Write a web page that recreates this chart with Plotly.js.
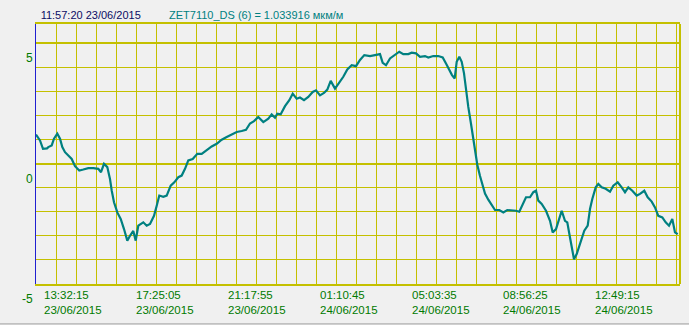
<!DOCTYPE html>
<html><head><meta charset="utf-8">
<script src="https://cdn.plot.ly/plotly-3.0.1.min.js"></script>
<style>html,body{margin:0;padding:0;background:#f0f0f0;}#chart{width:689px;height:325px;}</style>
</head><body><div id="chart"></div>
<script>
// time in hours since 23/06/2015 00:00
const hours = [11.848,11.932,12.017,12.144,12.313,12.367,12.511,12.608,12.748,12.862,
12.959,13.073,13.212,13.356,13.495,13.677,13.846,14.057,14.268,14.479,
14.593,14.720,14.859,14.973,15.045,15.142,15.282,15.425,15.565,15.704,
15.818,15.957,16.059,16.168,16.380,16.523,16.663,16.832,16.946,17.055,
17.224,17.368,17.537,17.689,17.858,18.001,18.141,18.280,18.466,18.660,
18.846,19.057,19.268,19.480,19.691,19.902,20.113,20.324,20.535,20.717,
20.886,21.055,21.236,21.448,21.659,21.802,21.942,22.039,22.182,22.364,
22.546,22.689,22.858,22.998,23.166,23.348,23.534,23.673,23.842,24.011,
24.151,24.294,24.476,24.657,24.826,24.995,25.181,25.363,25.532,25.713,
25.954,26.165,26.376,26.490,26.630,26.799,27.010,27.191,27.360,27.571,
27.715,27.897,28.066,28.277,28.416,28.627,28.838,29.024,29.164,29.303,
29.417,29.531,29.615,29.725,29.827,29.924,30.008,30.105,30.219,30.317,
30.388,30.485,30.600,30.714,30.811,30.950,31.094,31.233,31.415,31.584,
31.752,31.938,32.120,32.259,32.403,32.542,32.711,32.851,32.965,33.062,
33.205,33.387,33.556,33.670,33.809,33.906,34.050,34.189,34.286,34.400,
34.515,34.569,34.683,34.793,34.895,35.004,35.148,35.245,35.342,35.486,
35.596,35.739,35.908,36.090,36.229,36.415,36.584,36.723,36.863,37.032,
37.217,37.357,37.538,37.682,37.851,37.990,38.130,38.299,38.442,38.582,
38.721,38.835,38.949];
// strain, мкм/м
const strain = [1.2,1.1,0.96,0.61,0.63,0.68,0.75,1.03,1.24,1.03,
0.68,0.47,0.33,0.19,-0.11,-0.29,-0.25,-0.19,-0.19,-0.22,
-0.36,-0.01,-0.15,-0.64,-1.12,-1.61,-2.03,-2.3,-2.72,-3.2,
-3.0,-2.8,-3.2,-2.58,-2.44,-2.58,-2.51,-2.17,-1.75,-1.33,
-1.38,-1.33,-0.92,-0.78,-0.57,-0.5,-0.22,0.13,0.19,0.4,
0.4,0.57,0.71,0.82,0.99,1.1,1.21,1.31,1.35,1.4,
1.66,1.76,1.93,1.72,1.86,2.04,1.9,2.07,2.04,2.38,
2.63,2.9,2.69,2.74,2.63,2.76,2.97,3.04,2.83,2.93,
3.07,3.43,3.11,3.35,3.6,3.9,4.08,4.04,4.3,4.5,
4.46,4.5,4.54,4.18,4.08,4.36,4.5,4.64,4.54,4.54,
4.6,4.57,4.43,4.46,4.4,4.46,4.46,4.4,4.15,3.88,
3.67,3.53,4.22,4.43,4.22,3.74,3.04,2.35,1.65,0.96,
0.55,-0.05,-0.52,-0.9,-1.25,-1.5,-1.7,-1.93,-1.93,-2.03,
-1.93,-1.93,-1.96,-2.0,-1.68,-1.4,-1.4,-1.19,-1.13,-1.54,
-1.68,-1.96,-2.38,-2.86,-2.72,-2.44,-1.96,-2.38,-2.44,-3.07,
-3.63,-3.97,-3.76,-3.42,-3.07,-2.79,-2.58,-1.89,-1.47,-0.99,
-0.85,-0.99,-1.05,-1.17,-0.92,-0.78,-0.99,-1.19,-0.99,-1.13,
-1.33,-1.26,-1.13,-1.4,-1.58,-1.82,-2.17,-2.24,-2.44,-2.58,
-2.3,-2.86,-2.93];

const tickHours = [13.5375, 17.4181, 21.2986, 25.1792, 29.0597, 32.9403, 36.8208];
const tickTimes = ["13:32:15","17:25:05","21:17:55","01:10:45","05:03:35","08:56:25","12:49:15"];
const tickDates = ["23/06/2015","23/06/2015","23/06/2015","24/06/2015","24/06/2015","24/06/2015","24/06/2015"];
const yTickVals = [-5, 0, 5];
const yTickText = ["-5", "0", "5"];
const cursorTime = "11:57:20 23/06/2015";
const channelLabel = "ZET7110_DS (6) = 1.033916 мкм/м";

const xRange = [11.848, 39.046];
const yRange = [-5, 5.79];
const gridStepHours = 0.84466;

const FONT = "Liberation Sans, Arial, sans-serif";
const GRID = "#c4c000";
const GREEN = "#007a00";

const annotations = tickHours.map((h, i) => ({
  x: h, xref: 'x', y: -0.07, yref: 'paper',
  xanchor: 'left', yanchor: 'middle', align: 'left',
  xshift: -34, showarrow: false,
  text: tickTimes[i] + '<br>' + tickDates[i],
  font: {family: FONT, size: 11.5, color: GREEN}
}));
annotations.push({
  x: 0.2030, xref: 'paper', y: 1.0346, yref: 'paper',
  xanchor: 'left', yanchor: 'middle', showarrow: false,
  text: channelLabel, font: {family: FONT, size: 11, color: '#008080'}
});

const trace = {
  x: hours, y: strain, type: 'scatter', mode: 'lines',
  line: {color: '#008080', width: 2.2}, hoverinfo: 'skip'
};

const layout = {
  width: 689, height: 325,
  margin: {l: 36, r: 9, t: 24, b: 41},
  paper_bgcolor: '#f0f0f0', plot_bgcolor: '#f0f0f0',
  showlegend: false,
  title: {text: cursorTime, x: 0.059, xanchor: 'left', y: 0.954, yanchor: 'middle',
          font: {family: FONT, size: 11, color: '#0c0c64'}},
  xaxis: {
    range: xRange, type: 'linear', fixedrange: true,
    tickmode: 'linear', tick0: xRange[0], dtick: gridStepHours,
    showticklabels: false, ticks: '',
    showgrid: true, gridcolor: GRID, gridwidth: 1, zeroline: false,
    showline: true, linecolor: GRID, linewidth: 2, mirror: true
  },
  xaxis2: {
    overlaying: 'x', matches: 'x', range: xRange, type: 'linear', fixedrange: true,
    anchor: 'y', side: 'bottom',
    tickmode: 'array', tickvals: tickHours, ticktext: tickTimes,
    showticklabels: false, ticks: 'outside', ticklen: 4, tickcolor: GRID, tickwidth: 1,
    showgrid: false, zeroline: false, showline: false
  },
  yaxis: {
    range: yRange, fixedrange: true,
    tickmode: 'array', tickvals: yTickVals, ticktext: yTickText,
    ticks: '', ticklabelshift: 15,
    tickfont: {family: FONT, size: 12, color: GREEN},
    showgrid: true, gridcolor: GRID, gridwidth: 2, zeroline: false,
    showline: true, linecolor: '#2020d0', linewidth: 1,
    minor: {tickmode: 'linear', tick0: -5, dtick: 1, showgrid: true, gridcolor: GRID, gridwidth: 1, ticks: ''}
  },
  annotations: annotations,
  shapes: [
    {type: 'line', xref: 'paper', yref: 'paper', x0: 1, x1: 1, y0: 0, y1: 1,
     line: {color: GRID, width: 2}},
    {type: 'line', xref: 'paper', yref: 'paper', x0: -0.06, x1: 1.02, y0: -0.1535, y1: -0.1535,
     line: {color: '#a0a0a0', width: 1}}
  ]
};

Plotly.newPlot('chart', [trace], layout, {displayModeBar: false, staticPlot: true});
</script></body></html>
